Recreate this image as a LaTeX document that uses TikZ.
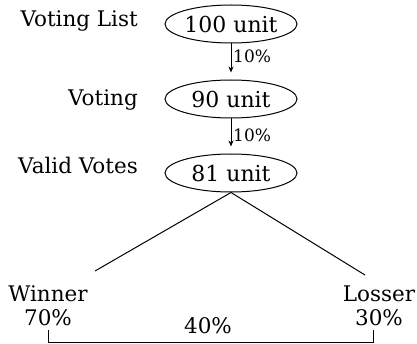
\documentclass[tikz,border=0pt]{standalone}
\usepackage{fontspec}
\setmainfont{DejaVu Serif}
\usetikzlibrary{shapes.geometric,arrows.meta}
\begin{document}
\begin{tikzpicture}[x=1pt,y=1pt,
  lbl/.style={font=\fontsize{21.5}{24}\selectfont, inner sep=0pt},
  oval/.style={ellipse, draw, line width=1pt, minimum width=132pt, minimum height=38pt, inner sep=0pt, font=\fontsize{22}{24}\selectfont},
  pct/.style={font=\fontsize{17}{19}\selectfont, inner sep=0pt},
  link/.style={line width=1pt},
  arr/.style={line width=1pt, shorten >=7pt, -{Stealth[length=6pt,width=5pt]}}]
\useasboundingbox (0,0) rectangle (417,343);
\node[oval] (e1) at (231,319) {100 unit};
\node[oval] (e2) at (231,244) {90 unit};
\node[oval] (e3) at (231,170) {81 unit};
\node[lbl, anchor=base east] (l1) at (138,316) {Voting List};
\node[lbl, anchor=base east] (l2) at (138,237) {Voting};
\node[lbl, anchor=base east] (l3) at (138,169) {Valid Votes};
\draw[arr] (e1) -- (e2);
\draw[arr] (e2) -- (e3);
\node[pct, anchor=base west] (p1) at (233,280) {10\%};
\node[pct, anchor=base west] (p2) at (233,201) {10\%};
\node[lbl, anchor=base] (w) at (48,42) {Winner};
\node[lbl, anchor=base] (w7) at (48,18) {70\%};
\node[lbl, anchor=base] (l) at (379,42) {Losser};
\node[lbl, anchor=base] (l3p) at (379,18) {30\%};
\node[lbl, anchor=base] (f) at (208,10) {40\%};
\coordinate (wt) at (95,72);
\coordinate (lt) at (365,68);
\draw[link] (e3.south) -- (wt);
\draw[link] (e3.south) -- (lt);
\coordinate (bl) at (48,13);
\coordinate (br) at (373,13);
\draw[link] (bl) -- ++(0,-12) -| (br);
\end{tikzpicture}
\end{document}
